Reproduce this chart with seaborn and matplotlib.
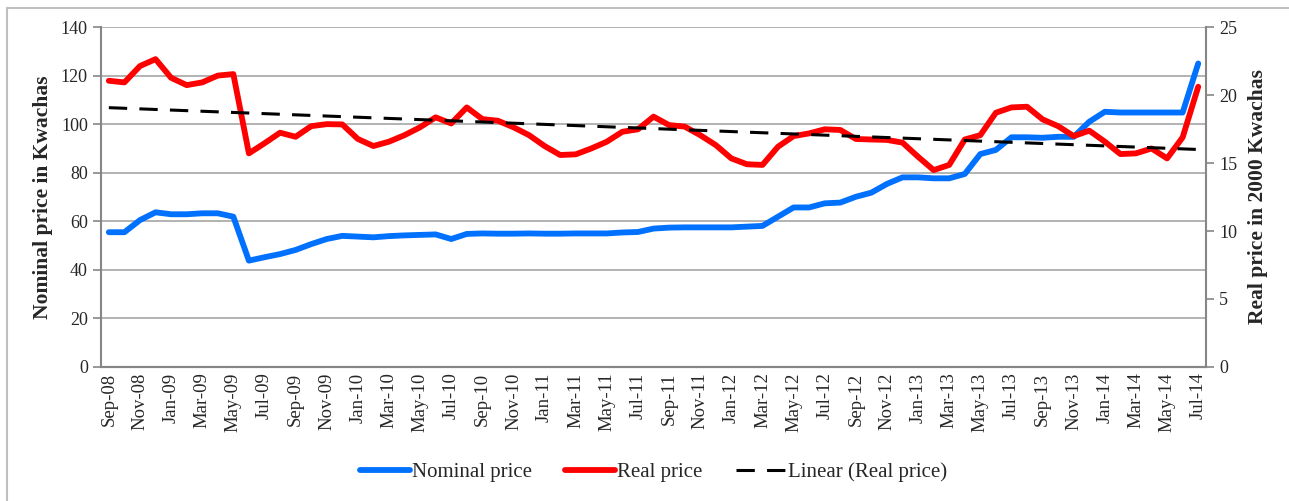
import numpy as np
import pandas as pd
import matplotlib
matplotlib.use("Agg")
import matplotlib.pyplot as plt
import seaborn as sns
from matplotlib.lines import Line2D

# monthly observations Sep-08 .. Jul-14
months = pd.date_range("2008-09-01", periods=71, freq="MS").strftime("%b-%y").tolist()

nominal_price = [
    55.5, 55.5, 60.5, 63.7, 62.9, 62.9, 63.3, 63.3, 61.9, 43.8,
    45.2, 46.5, 48.2, 50.6, 52.7, 54.0, 53.7, 53.4, 53.9, 54.2,
    54.4, 54.6, 52.7, 54.8, 55.0, 54.9, 54.9, 55.0, 54.9, 54.9,
    55.0, 55.0, 55.0, 55.4, 55.6, 57.0, 57.4, 57.5, 57.5, 57.5,
    57.5, 57.8, 58.1, 61.9, 65.7, 65.7, 67.4, 67.7, 70.1, 71.8,
    75.4, 78.1, 78.1, 77.7, 77.7, 79.5, 87.7, 89.4, 94.6, 94.6,
    94.4, 94.8, 94.8, 101.0, 105.1, 104.8, 104.8, 104.8, 104.8, 104.8,
    125.0,
]

real_price = [
    21.05, 20.93, 22.13, 22.64, 21.27, 20.73, 20.93, 21.43, 21.54, 15.71,
    16.45, 17.23, 16.93, 17.71, 17.86, 17.84, 16.77, 16.25, 16.57, 17.05,
    17.63, 18.36, 17.91, 19.09, 18.23, 18.11, 17.63, 17.05, 16.25, 15.59,
    15.64, 16.07, 16.57, 17.30, 17.48, 18.41, 17.79, 17.68, 17.05, 16.32,
    15.34, 14.91, 14.86, 16.20, 16.98, 17.18, 17.48, 17.43, 16.77, 16.73,
    16.70, 16.50, 15.46, 14.48, 14.86, 16.73, 17.05, 18.70, 19.09, 19.14,
    18.21, 17.71, 16.98, 17.38, 16.57, 15.66, 15.71, 16.07, 15.34, 16.89,
    20.61,
]


def main():
    sns.set_style("white")
    plt.rcParams["font.family"] = ["Liberation Serif", "DejaVu Serif"]

    idx = np.arange(len(months))
    df = pd.DataFrame({"idx": idx, "Month": months,
                       "Nominal price": nominal_price, "Real price": real_price})
    slope, icpt = np.polyfit(df["idx"], df["Real price"], 1)
    df["Linear (Real price)"] = slope * df["idx"] + icpt

    fig = plt.figure(figsize=(12.89, 5.01), dpi=100)
    ax = fig.add_axes([0.0784, 0.2675, 0.8572, 0.6785])
    ax2 = ax.twinx()

    blue = "#0070FF"
    red = "#FF0000"
    grid_c = "#A6A6A6"
    dash = (0, (6, 4))

    sns.lineplot(data=df, x="idx", y="Nominal price", ax=ax, color=blue, lw=4.2,
                 solid_capstyle="round", solid_joinstyle="round")
    sns.lineplot(data=df, x="idx", y="Real price", ax=ax2, color=red, lw=4.2,
                 solid_capstyle="round", solid_joinstyle="round")
    sns.lineplot(data=df, x="idx", y="Linear (Real price)", ax=ax2, color="black",
                 lw=2.2, linestyle=dash)

    ax.set_xlim(-0.5, len(months) - 0.5)
    ax.set_ylim(0, 140)
    ax2.set_ylim(0, 25)
    ax.set_yticks(np.arange(0, 141, 20))
    ax2.set_yticks(np.arange(0, 26, 5))
    ax.yaxis.grid(True, color=grid_c, lw=1.2)
    ax.set_axisbelow(True)

    ax.set_xticks(idx[::2])
    ax.set_xticklabels(months[::2], rotation=90, fontsize=13.5)
    ax.set_xticks(np.arange(-0.5, len(months), 2), minor=True)
    ax.tick_params(axis="x", which="major", length=0, pad=4)
    ax.tick_params(axis="x", which="minor", length=6, color="#868686", width=1.2)
    ax.tick_params(axis="y", length=6, color="#868686", width=1.2, labelsize=13)
    ax2.tick_params(axis="y", length=6, color="#868686", width=1.2, labelsize=13)

    for a in (ax, ax2):
        for s in ("left", "right", "bottom"):
            a.spines[s].set_color("#868686")
            a.spines[s].set_linewidth(1.5)
        a.spines["top"].set_visible(False)
    ax.spines["right"].set_visible(False)
    ax2.spines["left"].set_visible(False)

    ax.set_xlabel(None)
    ax.set_ylabel("Nominal price in Kwachas", fontsize=15.5, fontweight="bold", labelpad=6)
    ax2.set_ylabel("Real price in 2000 Kwachas", fontsize=15.5, fontweight="bold", labelpad=8)

    handles = [
        Line2D([], [], color=blue, lw=4.2, solid_capstyle="round"),
        Line2D([], [], color=red, lw=4.2, solid_capstyle="round"),
        Line2D([], [], color="black", lw=2.2, linestyle=dash),
    ]
    fig.legend(handles, ["Nominal price", "Real price", "Linear (Real price)"],
               loc="center", bbox_to_anchor=(0.507, 0.058), ncol=3, frameon=False,
               fontsize=15, handlelength=2.4, handletextpad=0.1, columnspacing=1.6)

    # outer chart frame
    fig.add_artist(Line2D([0.0055, 0.0055], [0, 0.984], color="#BFBFBF", lw=1.5))
    fig.add_artist(Line2D([0.0055, 1.0], [0.984, 0.984], color="#BFBFBF", lw=1.5))

    fig.savefig("out.png", dpi=100)


if __name__ == "__main__":
    main()
